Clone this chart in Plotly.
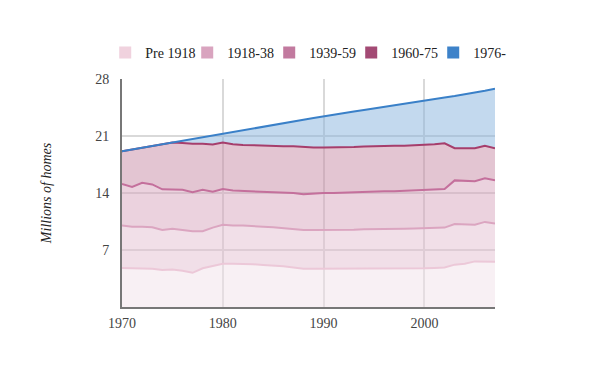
import plotly.graph_objects as go

years = list(range(1970, 2008))

pre1918 = [4.8, 4.75, 4.75, 4.7, 4.55, 4.6, 4.45, 4.2, 4.75, 5.0,
           5.3, 5.3, 5.3, 5.25, 5.15, 5.1, 5.0, 4.85, 4.7, 4.7,
           4.7, 4.72, 4.72, 4.72, 4.73, 4.73, 4.74, 4.74, 4.75, 4.75,
           4.75, 4.8, 4.85, 5.2, 5.3, 5.6, 5.6, 5.55]
s1918_38 = [5.2, 5.1, 5.1, 5.1, 4.9, 5.0, 5.0, 5.1, 4.55, 4.75,
            4.8, 4.7, 4.7, 4.65, 4.7, 4.7, 4.7, 4.75, 4.75, 4.75,
            4.75, 4.76, 4.78, 4.78, 4.82, 4.82, 4.86, 4.86, 4.87, 4.9,
            4.95, 4.92, 4.9, 5.0, 4.85, 4.5, 4.85, 4.7]
s1939_59 = [5.1, 4.9, 5.4, 5.25, 5.0, 4.85, 4.95, 4.8, 5.1, 4.4,
            4.4, 4.3, 4.25, 4.3, 4.3, 4.3, 4.35, 4.4, 4.4, 4.5,
            4.55, 4.52, 4.55, 4.55, 4.55, 4.6, 4.6, 4.6, 4.63, 4.65,
            4.65, 4.68, 4.75, 5.35, 5.35, 5.35, 5.35, 5.3]
s1960_75 = [4.02, 4.59, 4.3, 4.72, 5.53, 5.75, 5.75, 5.95, 5.65, 5.8,
            5.7, 5.7, 5.65, 5.65, 5.65, 5.7, 5.7, 5.75, 5.8, 5.65,
            5.6, 5.6, 5.6, 5.6, 5.6, 5.6, 5.6, 5.6, 5.55, 5.55,
            5.55, 5.6, 5.6, 3.95, 4.0, 4.05, 4.0, 3.95]
s1976 = [0, 0, 0, 0, 0, 0, 0.27, 0.58, 0.8, 1.11,
         1.08, 1.5, 1.81, 2.07, 2.34, 2.55, 2.81, 3.03, 3.34, 3.6,
         3.82, 4.02, 4.16, 4.35, 4.5, 4.65, 4.8, 5.0, 5.2, 5.35,
         5.48, 5.55, 5.62, 6.4, 6.6, 6.8, 6.75, 7.3]

names = ["Pre 1918", "1918-38", "1939-59", "1960-75", "1976-"]
series = [pre1918, s1918_38, s1939_59, s1960_75, s1976]
line_colors = ["#ecc8d8", "#dba5c0", "#c4709c", "#a63e6c", "#3a80c8"]
fill_colors = ["rgba(241,226,234,0.5)", "rgba(227,192,209,0.5)",
               "rgba(215,166,189,0.5)", "rgba(199,140,166,0.5)",
               "rgba(135,179,221,0.5)"]
legend_colors = ["#f0d2de", "#d9a4bf", "#c27a9f", "#a34a74", "#3d82c9"]

font_family = "Liberation Serif, DejaVu Serif, serif"

fig = go.Figure()
for name, vals, lc, fc in zip(names, series, line_colors, fill_colors):
    fig.add_trace(go.Scatter(
        x=years, y=vals, name=name, mode="lines", stackgroup="one",
        line=dict(color=lc, width=2), fillcolor=fc, showlegend=False,
        hoverinfo="x+y+name",
    ))
for name, col in zip(names, legend_colors):
    fig.add_trace(go.Scatter(
        x=[None], y=[None], name=name, mode="markers",
        marker=dict(symbol="square", size=12, color=col),
        showlegend=True,
    ))

fig.update_layout(
    width=600, height=371,
    margin=dict(l=114, r=113, t=71, b=72),
    plot_bgcolor="white", paper_bgcolor="white",
    font=dict(family=font_family, size=13, color="#333"),
    showlegend=True,
    legend=dict(orientation="h", x=-0.045, xanchor="left", y=1.115,
                yanchor="middle", traceorder="normal",
                font=dict(size=14, color="#222"),
                entrywidth=37, entrywidthmode="pixels", itemwidth=30,
                bgcolor="rgba(0,0,0,0)"),
    xaxis=dict(range=[1970, 2007], tickvals=[1970, 1980, 1990, 2000],
               showgrid=True, gridcolor="#d9d9d9", gridwidth=1.5,
               showline=True, linecolor="#777", linewidth=2,
               ticks="outside", ticklen=2, tickcolor="rgba(0,0,0,0)",
               zeroline=False, tickfont=dict(size=14, color="#444")),
    yaxis=dict(range=[0, 28], tickvals=[7, 14, 21, 28],
               showgrid=True, gridcolor="#d9d9d9", gridwidth=1.5,
               showline=True, linecolor="#777", linewidth=2,
               ticks="outside", ticklen=8, tickcolor="rgba(0,0,0,0)",
               zeroline=False, tickfont=dict(size=14, color="#444"),
               title=dict(text="<i>Millions of homes</i>", standoff=40,
                          font=dict(size=14, color="#222"))),
)

fig.write_html("out.html")
